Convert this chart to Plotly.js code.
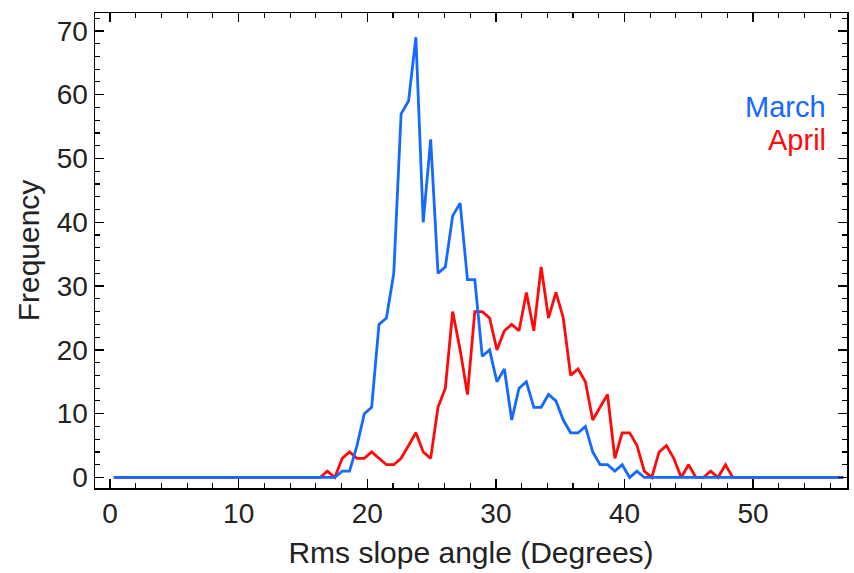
<!DOCTYPE html>
<html>
<head>
<meta charset="utf-8">
<script src="https://cdn.plot.ly/plotly-3.0.1.min.js"></script>
<style>html,body{margin:0;padding:0;background:#fff;}#chart{width:854px;height:573px;}</style>
</head>
<body>
<div id="chart"></div>
<script>
// Bin centres (degrees)
const slopeAngle = [0.29,0.86,1.43,2.01,2.58,3.15,3.72,4.30,4.87,5.44,
  6.02,6.59,7.16,7.74,8.31,8.88,9.45,10.03,10.60,11.17,
  11.75,12.32,12.89,13.47,14.04,14.61,15.18,15.76,16.33,16.90,
  17.48,18.05,18.62,19.20,19.77,20.34,20.91,21.49,22.06,22.63,
  23.21,23.78,24.35,24.93,25.50,26.07,26.64,27.22,27.79,28.36,
  28.94,29.51,30.08,30.66,31.23,31.80,32.37,32.95,33.52,34.09,
  34.67,35.24,35.81,36.39,36.96,37.53,38.10,38.68,39.25,39.82,
  40.40,40.97,41.54,42.12,42.69,43.26,43.83,44.41,44.98,45.55,
  46.13,46.70,47.27,47.85,48.42,48.99,49.56,50.14,50.71,51.28,
  51.86,52.43,53.00,53.58,54.15,54.72,55.29,55.87,56.44,57.01];

const march = [0,0,0,0,0,0,0,0,0,0,
  0,0,0,0,0,0,0,0,0,0,
  0,0,0,0,0,0,0,0,0,0,
  0,1,1,5,10,11,24,25,32,57,
  59,69,40,53,32,33,41,43,31,31,
  19,20,15,17,9,14,15,11,11,13,
  12,9,7,7,8,4,2,2,1,2,
  0,1,0,0,0,0,0,0,0,0,
  0,0,0,0,0,0,0,0,0,0,
  0,0,0,0,0,0,0,0,0,0];

const april = [0,0,0,0,0,0,0,0,0,0,
  0,0,0,0,0,0,0,0,0,0,
  0,0,0,0,0,0,0,0,0,1,
  0,3,4,3,3,4,3,2,2,3,
  5,7,4,3,11,14,26,20,13,26,
  26,25,20,23,24,23,29,23,33,25,
  29,25,16,17,15,9,11,13,3,7,
  7,5,1,0,4,5,3,0,2,0,
  0,1,0,2,0,0,0,0,0,0,
  0,0,0,0,0,0,0,0,0,0];

const seriesNames = ['March','April'];
const xTickVals = [0,10,20,30,40,50];
const yTickVals = [0,10,20,30,40,50,60,70];

const blue = 'rgb(20,105,255)';
const red = 'rgb(255,10,10)';
const textCol = '#222';
const fontFam = 'Liberation Sans, Arial, sans-serif';

const traces = [
  {x: slopeAngle, y: april, mode:'lines', name: seriesNames[1], line:{color:red, width:2.8}},
  {x: slopeAngle, y: march, mode:'lines', name: seriesNames[0], line:{color:blue, width:2.8}}
];

const axisCommon = {
  showgrid:false, zeroline:false, showline:true, linecolor:'#000', linewidth:1.5,
  mirror:'allticks', ticks:'inside', ticklen:9, tickwidth:1.3, tickcolor:'#000',
  tickfont:{family:fontFam, size:28, color:textCol}
};

const layout = {
  width:854, height:573,
  margin:{l:95, r:7, t:13, b:85},
  paper_bgcolor:'#fff', plot_bgcolor:'#fff',
  showlegend:false,
  font:{family:fontFam, color:textCol},
  xaxis: Object.assign({}, axisCommon, {
    range:[-1.17, 57.3], tickvals:xTickVals, ticktext:xTickVals.map(String),
    minor:{ticks:'inside', dtick:2, tick0:0, ticklen:5, tickwidth:1.1, tickcolor:'#000'},
    title:{text:'Rms slope angle (Degrees)', font:{family:fontFam, size:30, color:textCol}, standoff:14}
  }),
  yaxis: Object.assign({}, axisCommon, {
    range:[-1.65, 72.8], tickvals:yTickVals, ticktext:yTickVals.map(String),
    minor:{ticks:'inside', dtick:2, tick0:0, ticklen:5, tickwidth:1.1, tickcolor:'#000'},
    title:{text:'Frequency', font:{family:fontFam, size:30, color:textCol}, standoff:8}
  }),
  annotations:[
    {xref:'paper', yref:'paper', x:0.975, y:0.803, xanchor:'right', yanchor:'middle', showarrow:false,
     text:seriesNames[0], font:{family:fontFam, size:29, color:blue}},
    {xref:'paper', yref:'paper', x:0.975, y:0.733, xanchor:'right', yanchor:'middle', showarrow:false,
     text:seriesNames[1], font:{family:fontFam, size:29, color:red}}
  ]
};

Plotly.newPlot('chart', traces, layout, {staticPlot:true, displayModeBar:false});
</script>
</body>
</html>
